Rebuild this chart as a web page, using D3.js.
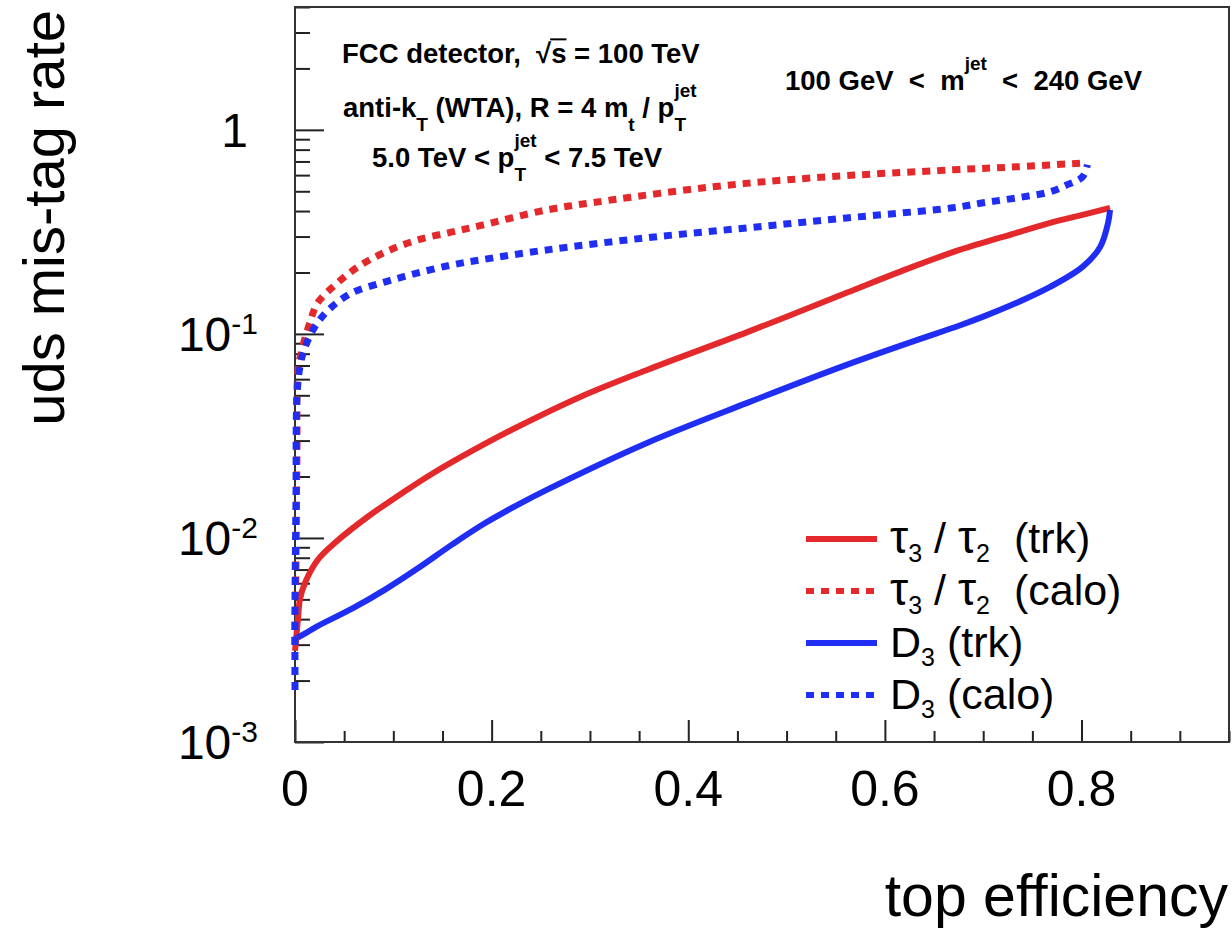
<!DOCTYPE html>
<html>
<head>
<meta charset="utf-8">
<script src="https://cdn.jsdelivr.net/npm/d3@7"></script>
<style>
  body { margin: 0; background: #fff; }
  text { font-family: "Liberation Sans", Arial, Helvetica, sans-serif; white-space: pre; }
</style>
</head>
<body>
<svg id="chart" width="1232" height="935"></svg>
<script>
// curves: top efficiency vs uds mis-tag rate
const tau32TrkEff  = [0, 0.003, 0.005, 0.010, 0.023, 0.041, 0.074, 0.109, 0.142, 0.193, 0.222, 0.290, 0.358, 0.460, 0.561, 0.628, 0.676, 0.734, 0.768, 0.801, 0.829];
const tau32TrkRate = [0.0028, 0.0040, 0.0050, 0.0060, 0.0078, 0.0095, 0.0127, 0.0166, 0.0210, 0.0289, 0.0342, 0.0491, 0.0666, 0.102, 0.159, 0.213, 0.258, 0.313, 0.350, 0.383, 0.415];

const tau32CaloEff  = [0, 0.001, 0.002, 0.003, 0.007, 0.015, 0.023, 0.041, 0.064, 0.092, 0.125, 0.160, 0.188, 0.256, 0.323, 0.425, 0.527, 0.669, 0.734, 0.805];
const tau32CaloRate = [0.0030, 0.0078, 0.027, 0.0666, 0.0835, 0.113, 0.142, 0.174, 0.213, 0.252, 0.289, 0.316, 0.339, 0.405, 0.454, 0.526, 0.582, 0.637, 0.659, 0.689];

const d3TrkEff  = [0, 0.010, 0.023, 0.058, 0.092, 0.125, 0.160, 0.193, 0.225, 0.256, 0.358, 0.460, 0.561, 0.628, 0.676, 0.700, 0.734, 0.768, 0.801, 0.819, 0.827, 0.829];
const d3TrkRate = [0.0032, 0.0034, 0.0037, 0.0045, 0.0056, 0.0071, 0.0093, 0.0118, 0.0144, 0.0172, 0.0292, 0.0459, 0.0705, 0.0917, 0.110, 0.1215, 0.142, 0.170, 0.213, 0.267, 0.350, 0.405];

const d3CaloEff  = [0, 0, 0.001, 0.002, 0.005, 0.010, 0.020, 0.034, 0.058, 0.092, 0.125, 0.160, 0.190, 0.256, 0.358, 0.460, 0.561, 0.669, 0.700, 0.734, 0.768, 0.785, 0.801, 0.806];
const d3CaloRate = [0.0018, 0.005, 0.0153, 0.0491, 0.0689, 0.0854, 0.108, 0.131, 0.159, 0.180, 0.199, 0.218, 0.231, 0.258, 0.296, 0.331, 0.370, 0.415, 0.439, 0.464, 0.497, 0.537, 0.588, 0.674];

const xMajorTicks = [0, 0.2, 0.4, 0.6, 0.8];
const xTickLabels = ['0', '0.2', '0.4', '0.6', '0.8'];
const yDecades = [1e-3, 1e-2, 1e-1, 1];
const yDecadeExps = ['-3', '-2', '-1', ''];

const red = '#e3292b';
const blue = '#1f2ef2';

const svg = d3.select('#chart');
const frameL = 295, frameR = 1229, frameT = 7, frameB = 742;

const x = d3.scaleLinear().domain([0, 0.95]).range([frameL, frameR]);
const y = d3.scaleLog().domain([1e-3, 4]).range([frameB, frameT]);

// ticks, ROOT style (inside the frame)
const xMinor = d3.range(0, 0.951, 0.05).filter(v => !xMajorTicks.some(m => Math.abs(m - v) < 1e-6));
const yMinor = [];
yDecades.forEach(d => d3.range(2, 10).forEach(k => { if (d * k <= 4) yMinor.push(d * k); }));

const xAxisMinor = d3.axisBottom(x).tickValues(xMinor).tickSize(-11).tickFormat('');
const xAxisMajor = d3.axisBottom(x).tickValues(xMajorTicks).tickSize(-22).tickFormat('');
const yAxisMinor = d3.axisLeft(y).tickValues(yMinor).tickSize(-15).tickFormat('');
const yAxisMajor = d3.axisLeft(y).tickValues(yDecades).tickSize(-29).tickFormat('');

[xAxisMinor, xAxisMajor].forEach(a => {
  svg.append('g').attr('transform', `translate(0,${frameB})`).call(a)
    .call(g => g.select('.domain').remove())
    .selectAll('line').attr('stroke', '#222').attr('stroke-width', 2);
});
[yAxisMinor, yAxisMajor].forEach(a => {
  svg.append('g').attr('transform', `translate(${frameL},0)`).call(a)
    .call(g => g.select('.domain').remove())
    .selectAll('line').attr('stroke', '#222').attr('stroke-width', 2);
});

// frame
svg.append('rect')
  .attr('x', frameL).attr('y', frameT)
  .attr('width', frameR - frameL).attr('height', frameB - frameT)
  .attr('fill', 'none').attr('stroke', '#333').attr('stroke-width', 2);

// x tick labels
svg.append('g').selectAll('text')
  .data(xMajorTicks)
  .join('text')
  .attr('x', d => x(d))
  .attr('y', 806)
  .attr('text-anchor', 'middle')
  .attr('font-size', 50)
  .text((d, i) => xTickLabels[i]);

// y tick labels with superscripts
yDecades.forEach((d, i) => {
  const t = svg.append('text')
    .attr('x', yDecadeExps[i] ? 258 : 248)
    .attr('y', y(d) + 17)
    .attr('text-anchor', 'end')
    .attr('font-size', 48);
  if (yDecadeExps[i]) {
    t.append('tspan').text('10');
    t.append('tspan').attr('font-size', 30).attr('dy', -17).text(yDecadeExps[i]);
  } else {
    t.text('1');
  }
});

// axis titles
svg.append('text')
  .attr('x', 1228).attr('y', 916)
  .attr('text-anchor', 'end')
  .attr('font-size', 59)
  .text('top efficiency');

svg.append('text')
  .attr('transform', 'translate(64,10) rotate(-90)')
  .attr('text-anchor', 'end')
  .attr('font-size', 58)
  .text('uds mis-tag rate');

// curves
const line = d3.line()
  .x(d => x(d[0]))
  .y(d => y(d[1]))
  .curve(d3.curveCatmullRom.alpha(0.5));

const series = [
  { eff: tau32TrkEff, rate: tau32TrkRate, color: red, dash: null },
  { eff: tau32CaloEff, rate: tau32CaloRate, color: red, dash: '8,7' },
  { eff: d3TrkEff, rate: d3TrkRate, color: blue, dash: null },
  { eff: d3CaloEff, rate: d3CaloRate, color: blue, dash: '8,7' }
];

// draw dotted ones last so they sit on top like the original
[series[0], series[2], series[1], series[3]].forEach(s => {
  svg.append('path')
    .attr('d', line(d3.zip(s.eff, s.rate)))
    .attr('fill', 'none')
    .attr('stroke', s.color)
    .attr('stroke-width', s.dash ? 7 : 6)
    .attr('stroke-dasharray', s.dash);
});

// text with sub/superscripts: segments laid out one after another
function richText(parent, x0, y0, segs, opts) {
  const g = parent.append('g');
  let cx = 0;
  function piece(p, px) {
    const t = g.append('text')
      .attr('x', px).attr('y', p.dy || 0)
      .attr('font-size', p.size)
      .attr('font-weight', opts.weight || 'normal')
      .text(p.t);
    if (p.family) t.attr('font-family', p.family);
    const w = t.node().getComputedTextLength();
    if (p.over) {
      g.append('line')
        .attr('x1', px - 1).attr('x2', px + w)
        .attr('y1', -p.size * 0.86).attr('y2', -p.size * 0.86)
        .attr('stroke', '#000').attr('stroke-width', 2);
    }
    return w;
  }
  segs.forEach(s => {
    if (Array.isArray(s)) {
      let w = 0;
      s.forEach(p => { w = Math.max(w, piece(p, cx)); });
      cx += w;
    } else {
      cx += piece(s, cx);
    }
  });
  const shift = opts.anchor === 'end' ? -cx : opts.anchor === 'middle' ? -cx / 2 : 0;
  g.attr('transform', `translate(${x0 + shift},${y0})`);
  return g;
}

const big = 27.5, small = 19;
richText(svg, 342, 63, [
  { t: 'FCC detector,  ', size: big },
  { t: '√', size: big },
  { t: 's', size: big, over: true },
  { t: ' = 100 TeV', size: big }
], { weight: 'bold' });

richText(svg, 343, 117, [
  { t: 'anti-k', size: big },
  { t: 'T', size: small, dy: 14 },
  { t: ' (WTA), R = 4 m', size: big },
  { t: 't', size: small, dy: 14 },
  { t: ' / p', size: big },
  [{ t: 'T', size: small, dy: 14 }, { t: 'jet', size: small, dy: -20 }]
], { weight: 'bold' });

richText(svg, 372, 167, [
  { t: '5.0 TeV < p', size: big },
  [{ t: 'T', size: small, dy: 14 }, { t: 'jet', size: small, dy: -20 }],
  { t: ' < 7.5 TeV', size: big }
], { weight: 'bold' });

richText(svg, 785, 90, [
  { t: '100 GeV  <  m', size: big },
  { t: 'jet', size: small, dy: -20 },
  { t: '  <  240 GeV', size: big }
], { weight: 'bold' });

// legend
const legendY = [539, 591, 643, 695];
const serif = '"Liberation Serif", "DejaVu Serif", serif';
const lf = 43, lsub = 25;
const legendLabels = [
  [{ t: 'τ', size: lf + 3, family: serif }, { t: '3', size: lsub, dy: 9 }, { t: ' / ', size: lf },
   { t: 'τ', size: lf + 3, family: serif }, { t: '2', size: lsub, dy: 9 }, { t: '  (trk)', size: lf }],
  [{ t: 'τ', size: lf + 3, family: serif }, { t: '3', size: lsub, dy: 9 }, { t: ' / ', size: lf },
   { t: 'τ', size: lf + 3, family: serif }, { t: '2', size: lsub, dy: 9 }, { t: '  (calo)', size: lf }],
  [{ t: 'D', size: lf }, { t: '3', size: lsub, dy: 9 }, { t: ' (trk)', size: lf }],
  [{ t: 'D', size: lf }, { t: '3', size: lsub, dy: 9 }, { t: ' (calo)', size: lf }]
];

series.forEach((s, i) => {
  svg.append('line')
    .attr('x1', 806).attr('x2', 877)
    .attr('y1', legendY[i]).attr('y2', legendY[i])
    .attr('stroke', s.color)
    .attr('stroke-width', 6)
    .attr('stroke-dasharray', s.dash);
  richText(svg, 890, legendY[i] + 14, legendLabels[i], {});
});
</script>
</body>
</html>
